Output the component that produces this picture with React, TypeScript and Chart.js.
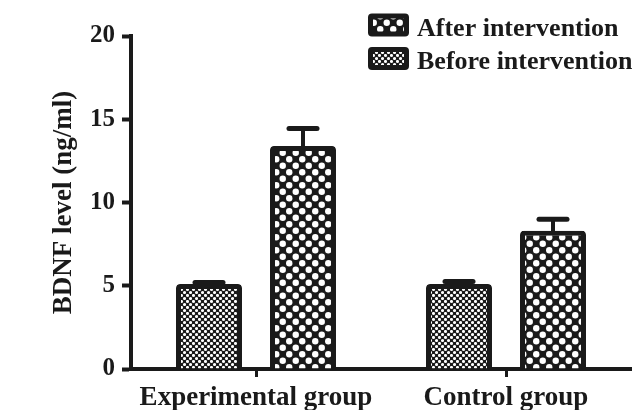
import { useEffect, useRef } from 'react';
import { Chart, registerables } from 'chart.js';

Chart.register(...registerables);

const categories = ['Experimental group', 'Control group'];
const seriesNames = ['Before intervention', 'After intervention'];
const beforeValues = [5.1, 5.1];
const afterValues = [13.4, 8.3];
const beforeErrors = [0.1, 0.15];
const afterErrors = [1.05, 0.7];
const yTicks = [0, 5, 10, 15, 20];
const yTitle = 'BDNF level (ng/ml)';

const INK = '#1a1a1a';
const FONT = '"Liberation Serif", "Times New Roman", serif';

function makePattern(tile: number, r: number): CanvasPattern | string {
  const c = document.createElement('canvas');
  c.width = tile;
  c.height = tile;
  const g = c.getContext('2d');
  if (!g) return INK;
  g.fillStyle = INK;
  g.fillRect(0, 0, tile, tile);
  g.fillStyle = '#ffffff';
  const h = tile / 2;
  const centers = [
    [h / 2, h / 2],
    [h * 1.5, h * 1.5],
  ];
  for (const [cx, cy] of centers) {
    g.beginPath();
    g.arc(cx, cy, r, 0, Math.PI * 2);
    g.fill();
  }
  const p = g.createPattern(c, 'repeat');
  return p || INK;
}

const errorBarPlugin = {
  id: 'errorBars',
  afterDatasetsDraw(chart: any) {
    const ctx = chart.ctx;
    const yScale = chart.scales.y;
    chart.data.datasets.forEach((ds: any, di: number) => {
      const meta = chart.getDatasetMeta(di);
      meta.data.forEach((bar: any, i: number) => {
        const top = yScale.getPixelForValue(ds.data[i] + ds.errors[i]);
        const base = bar.y;
        ctx.save();
        ctx.strokeStyle = INK;
        ctx.lineWidth = 4;
        ctx.beginPath();
        ctx.moveTo(bar.x, base + 3);
        ctx.lineTo(bar.x, top);
        ctx.stroke();
        ctx.lineWidth = 5;
        ctx.lineCap = 'round';
        ctx.beginPath();
        ctx.moveTo(bar.x - 14, top);
        ctx.lineTo(bar.x + 14, top);
        ctx.stroke();
        ctx.restore();
      });
    });
  },
};

function roundRect(ctx: CanvasRenderingContext2D, x: number, y: number, w: number, h: number, r: number) {
  ctx.beginPath();
  ctx.moveTo(x + r, y);
  ctx.lineTo(x + w - r, y);
  ctx.quadraticCurveTo(x + w, y, x + w, y + r);
  ctx.lineTo(x + w, y + h - r);
  ctx.quadraticCurveTo(x + w, y + h, x + w - r, y + h);
  ctx.lineTo(x + r, y + h);
  ctx.quadraticCurveTo(x, y + h, x, y + h - r);
  ctx.lineTo(x, y + r);
  ctx.quadraticCurveTo(x, y, x + r, y);
  ctx.closePath();
}

const legendPlugin = {
  id: 'customLegend',
  afterDraw(chart: any) {
    const ctx = chart.ctx as CanvasRenderingContext2D;
    const order = [1, 0];
    const x0 = chart.width - 264;
    ctx.save();
    order.forEach((di, row) => {
      const ds = chart.data.datasets[di];
      const by = 13.5 + row * 33.5;
      ctx.fillStyle = INK;
      roundRect(ctx, x0, by, 41, 23, 4);
      ctx.fill();
      ctx.fillStyle = ds.backgroundColor;
      ctx.fillRect(x0 + 5, by + 5, 31, 13);
      ctx.fillStyle = INK;
      ctx.font = `bold 26px ${FONT}`;
      ctx.textAlign = 'left';
      ctx.textBaseline = 'alphabetic';
      ctx.fillText(ds.label, x0 + 49, by + 22);
    });
    ctx.restore();
  },
};

export default function App() {
  const ref = useRef<HTMLCanvasElement | null>(null);

  useEffect(() => {
    document.body.style.margin = '0';
    const canvas = ref.current;
    if (!canvas) return;
    const beforeFill = makePattern(6, 1.55);
    const afterFill = makePattern(13, 3.2);
    const chart = new Chart(canvas, {
      type: 'bar',
      data: {
        labels: categories,
        datasets: [
          {
            label: seriesNames[0],
            data: beforeValues,
            errors: beforeErrors,
            backgroundColor: beforeFill,
            borderColor: INK,
            borderWidth: 5,
            borderRadius: 4,
            borderSkipped: 'start',
            categoryPercentage: 0.752,
            barPercentage: 0.702,
          } as any,
          {
            label: seriesNames[1],
            data: afterValues,
            errors: afterErrors,
            backgroundColor: afterFill,
            borderColor: INK,
            borderWidth: 5,
            borderRadius: 4,
            borderSkipped: 'start',
            categoryPercentage: 0.752,
            barPercentage: 0.702,
          } as any,
        ],
      },
      options: {
        responsive: false,
        animation: false,
        layout: { padding: { left: 0, right: 1, top: 36, bottom: 0 } },
        plugins: {
          legend: { display: false },
          tooltip: { enabled: false },
        },
        scales: {
          x: {
            offset: true,
            grid: {
              offset: false,
              drawOnChartArea: false,
              drawTicks: true,
              tickLength: 8,
              tickWidth: 3,
              tickColor: INK,
            },
            border: { display: true, color: INK, width: 4 },
            ticks: {
              color: INK,
              font: { family: FONT, size: 27, weight: 'bold' },
              padding: 5,
              maxRotation: 0,
              autoSkip: false,
            },
            afterFit: (s: any) => {
              s.height = 41;
            },
          },
          y: {
            min: 0,
            max: 20,
            grid: {
              drawOnChartArea: false,
              drawTicks: true,
              tickLength: 9,
              tickWidth: 4,
              tickColor: INK,
            },
            border: { display: true, color: INK, width: 4 },
            ticks: {
              color: INK,
              font: { family: FONT, size: 25, weight: 'bold' },
              padding: 7,
            },
            afterBuildTicks: (s: any) => {
              s.ticks = yTicks.map((v) => ({ value: v }));
            },
            title: {
              display: true,
              text: yTitle,
              color: INK,
              font: { family: FONT, size: 27, weight: 'bold' },
              padding: { top: 48, bottom: 0 },
            },
            afterFit: (s: any) => {
              s.width = 131;
            },
          },
        },
      } as any,
      plugins: [errorBarPlugin, legendPlugin],
    });
    return () => chart.destroy();
  }, []);

  return (
    <div style={{ width: 632, height: 410 }}>
      <canvas ref={ref} width={632} height={410} style={{ display: 'block' }} />
    </div>
  );
}
